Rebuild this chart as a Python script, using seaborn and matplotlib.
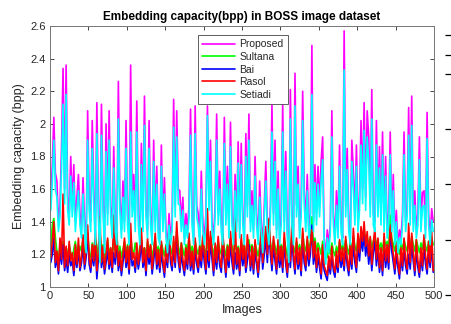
import numpy as np
import pandas as pd
import matplotlib
matplotlib.use("Agg")
import matplotlib.pyplot as plt
import seaborn as sns

images = list(range(1, 501, 2))

proposed = [
 1.55,1.75,2.04,1.70,1.65,1.40,1.50,1.85,2.34,1.60,
 2.36,1.55,1.45,1.80,1.50,1.75,1.40,1.55,1.69,1.45,
 1.35,1.67,1.40,1.25,2.08,1.55,1.40,2.02,1.60,1.30,
 2.13,1.50,1.20,2.12,1.55,1.25,2.00,1.45,2.08,1.50,
 1.35,1.86,1.40,1.30,2.26,1.55,1.35,1.65,1.40,2.02,
 1.45,1.30,2.36,1.50,1.69,1.40,2.14,1.45,1.30,1.88,
 1.40,2.17,1.50,1.35,2.02,1.45,1.30,1.90,1.40,1.74,
 1.35,1.30,1.87,1.40,1.67,1.35,1.25,1.45,1.30,1.40,
 2.15,1.50,2.08,1.60,1.59,1.40,1.55,1.30,1.45,1.35,
 1.50,2.09,1.45,1.30,2.11,1.50,1.45,1.30,1.71,1.40,
 1.30,1.45,2.11,1.55,1.90,1.40,1.30,1.50,2.06,1.45,
 1.71,1.40,1.30,2.04,1.45,1.74,1.35,2.01,1.45,1.30,
 1.69,1.40,1.89,1.35,1.88,1.45,1.30,1.94,1.50,2.06,
 1.40,1.59,1.35,1.80,1.45,1.30,1.65,1.40,1.25,1.50,
 1.77,1.40,1.30,1.50,2.12,1.45,1.90,1.35,1.71,1.30,
 1.45,2.12,1.40,1.83,1.35,1.20,2.21,1.45,1.30,2.31,
 1.50,1.74,1.35,1.50,2.20,1.60,1.40,1.69,1.35,1.45,
 2.48,1.40,1.75,1.45,1.74,1.50,1.77,1.92,1.30,1.18,
 1.35,1.25,1.40,2.08,1.45,1.30,1.59,1.35,1.87,1.40,
 1.30,2.57,1.50,1.85,1.40,1.30,1.90,1.71,1.45,1.87,
 1.40,1.55,2.02,1.60,2.13,1.55,2.08,1.92,1.50,2.21,
 1.45,1.40,2.02,1.50,1.86,1.45,1.95,1.40,1.80,1.35,
 1.45,1.95,1.40,1.69,1.30,1.47,1.25,1.35,1.30,1.45,
 1.95,1.40,1.50,2.10,1.45,2.17,1.40,1.59,1.35,1.45,
 1.92,1.40,1.58,1.59,1.35,2.07,1.45,1.30,1.48,1.40,
]

setiadi = [
 1.47,1.64,1.90,1.60,1.55,1.34,1.43,1.72,2.12,1.51,
 2.18,1.47,1.38,1.68,1.43,1.64,1.34,1.47,1.59,1.38,
 1.30,1.57,1.34,1.21,1.90,1.47,1.34,1.85,1.51,1.26,
 1.94,1.43,1.15,1.93,1.47,1.21,1.83,1.38,1.90,1.43,
 1.30,1.73,1.34,1.26,2.03,1.47,1.30,1.55,1.34,1.85,
 1.38,1.26,1.95,1.43,1.59,1.34,1.95,1.38,1.26,1.75,
 1.34,1.99,1.43,1.30,1.85,1.38,1.26,1.77,1.34,1.63,
 1.30,1.26,1.74,1.34,1.57,1.30,1.21,1.38,1.26,1.34,
 1.98,1.43,1.92,1.51,1.50,1.34,1.47,1.26,1.38,1.30,
 1.43,1.93,1.38,1.26,1.94,1.43,1.38,1.26,1.60,1.34,
 1.26,1.38,2.05,1.47,1.77,1.34,1.26,1.43,1.90,1.38,
 1.60,1.34,1.26,1.88,1.38,1.63,1.30,1.86,1.38,1.26,
 1.59,1.34,1.76,1.30,1.75,1.38,1.26,1.80,1.43,1.90,
 1.34,1.50,1.30,1.68,1.38,1.26,1.55,1.34,1.21,1.43,
 1.65,1.34,1.26,1.43,1.95,1.38,1.77,1.30,1.60,1.26,
 1.38,1.95,1.34,1.71,1.30,1.15,2.03,1.38,1.26,2.11,
 1.43,1.63,1.30,1.43,2.02,1.51,1.34,1.59,1.30,1.38,
 2.18,1.34,1.64,1.38,1.63,1.43,1.65,1.78,1.26,1.14,
 1.30,1.21,1.34,1.92,1.38,1.26,1.50,1.30,1.74,1.34,
 1.26,2.33,1.43,1.72,1.34,1.26,1.77,1.60,1.38,1.74,
 1.34,1.47,1.87,1.51,1.96,1.47,1.92,1.78,1.43,2.03,
 1.38,1.34,1.87,1.43,1.73,1.38,1.81,1.34,1.68,1.30,
 1.38,1.81,1.34,1.59,1.26,1.40,1.21,1.30,1.26,1.38,
 1.81,1.34,1.43,1.93,1.38,1.99,1.34,1.50,1.30,1.38,
 1.78,1.34,1.49,1.50,1.30,1.91,1.38,1.26,1.41,1.34,
]

sultana = [
 1.25,1.38,1.42,1.30,1.22,1.18,1.25,1.20,1.28,1.17,
 1.24,1.19,1.26,1.21,1.17,1.23,1.28,1.20,1.18,1.25,
 1.22,1.30,1.19,1.24,1.33,1.21,1.18,1.27,1.22,1.30,
 1.25,1.19,1.34,1.22,1.26,1.18,1.23,1.29,1.20,1.24,
 1.19,1.27,1.22,1.32,1.20,1.25,1.18,1.23,1.28,1.21,
 1.26,1.19,1.31,1.23,1.20,1.27,1.22,1.18,1.25,1.29,
 1.21,1.24,1.19,1.28,1.22,1.26,1.18,1.24,1.30,1.21,
 1.25,1.20,1.27,1.23,1.19,1.26,1.22,1.33,1.24,1.20,
 1.28,1.22,1.35,1.25,1.20,1.27,1.23,1.19,1.26,1.22,
 1.30,1.21,1.25,1.19,1.28,1.23,1.20,1.26,1.22,1.29,
 1.24,1.20,1.27,1.22,1.31,1.25,1.19,1.26,1.22,1.28,
 1.23,1.20,1.29,1.24,1.19,1.26,1.22,1.30,1.25,1.20,
 1.27,1.22,1.25,1.19,1.28,1.23,1.26,1.20,1.24,1.29,
 1.22,1.26,1.20,1.27,1.23,1.19,1.25,1.30,1.22,1.26,
 1.31,1.24,1.38,1.27,1.22,1.29,1.25,1.20,1.28,1.23,
 1.26,1.21,1.30,1.24,1.19,1.27,1.23,1.32,1.25,1.21,
 1.28,1.23,1.26,1.20,1.33,1.25,1.22,1.29,1.24,1.27,
 1.43,1.26,1.30,1.22,1.27,1.24,1.20,1.28,1.23,1.21,
 1.18,1.24,1.20,1.27,1.22,1.19,1.25,1.21,1.28,1.23,
 1.26,1.22,1.29,1.24,1.20,1.27,1.23,1.31,1.25,1.22,
 1.30,1.26,1.33,1.28,1.35,1.29,1.31,1.26,1.30,1.24,
 1.28,1.32,1.25,1.29,1.23,1.27,1.22,1.30,1.25,1.28,
 1.24,1.44,1.30,1.26,1.22,1.28,1.24,1.20,1.27,1.23,
 1.29,1.25,1.22,1.28,1.24,1.31,1.26,1.22,1.29,1.25,
 1.21,1.27,1.23,1.30,1.25,1.22,1.28,1.24,1.30,1.26,
]

bai = [
 1.15,1.20,1.30,1.12,1.18,1.08,1.22,1.14,1.26,1.10,
 1.17,1.09,1.21,1.13,1.16,1.07,1.19,1.12,1.23,1.10,
 1.15,1.25,1.11,1.18,1.33,1.14,1.09,1.20,1.13,1.26,
 1.05,1.17,1.28,1.12,1.19,1.08,1.15,1.22,1.11,1.18,
 1.09,1.21,1.14,1.27,1.10,1.17,1.07,1.15,1.24,1.12,
 1.19,1.08,1.25,1.13,1.16,1.09,1.20,1.11,1.17,1.28,
 1.12,1.18,1.07,1.23,1.14,1.20,1.08,1.16,1.26,1.11,
 1.18,1.09,1.21,1.13,1.06,1.19,1.12,1.30,1.15,1.10,
 1.24,1.12,1.31,1.16,1.09,1.20,1.13,1.07,1.18,1.11,
 1.26,1.10,1.17,1.08,1.23,1.14,1.09,1.19,1.12,1.25,
 1.15,1.08,1.22,1.12,1.28,1.17,1.07,1.20,1.11,1.24,
 1.13,1.09,1.25,1.16,1.06,1.19,1.12,1.27,1.15,1.08,
 1.21,1.11,1.18,1.07,1.24,1.13,1.20,1.09,1.16,1.26,
 1.10,1.19,1.08,1.22,1.14,1.06,1.17,1.28,1.11,1.20,
 1.30,1.15,1.35,1.20,1.10,1.24,1.16,1.08,1.22,1.12,
 1.19,1.09,1.27,1.14,1.06,1.21,1.12,1.30,1.16,1.08,
 1.23,1.11,1.18,1.07,1.29,1.15,1.10,1.24,1.13,1.20,
 1.38,1.14,1.22,1.09,1.18,1.12,1.05,1.20,1.10,1.07,
 1.04,1.15,1.08,1.19,1.10,1.06,1.16,1.09,1.22,1.12,
 1.18,1.10,1.24,1.13,1.07,1.20,1.11,1.27,1.15,1.09,
 1.26,1.16,1.30,1.22,1.33,1.19,1.27,1.14,1.24,1.10,
 1.21,1.28,1.13,1.23,1.09,1.18,1.07,1.25,1.12,1.20,
 1.11,1.35,1.22,1.15,1.08,1.20,1.12,1.05,1.18,1.10,
 1.23,1.13,1.08,1.20,1.11,1.26,1.16,1.07,1.22,1.12,
 1.06,1.18,1.10,1.24,1.14,1.08,1.21,1.12,1.25,1.09,
]

rasol = [
 1.18,1.28,1.40,1.15,1.22,1.10,1.30,1.17,1.57,1.12,
 1.25,1.13,1.28,1.16,1.21,1.10,1.26,1.14,1.30,1.12,
 1.19,1.32,1.14,1.23,1.38,1.18,1.12,1.26,1.16,1.35,
 1.10,1.22,1.43,1.15,1.25,1.11,1.20,1.30,1.14,1.24,
 1.12,1.44,1.18,1.33,1.13,1.22,1.10,1.20,1.30,1.15,
 1.25,1.11,1.39,1.17,1.21,1.12,1.27,1.14,1.22,1.36,
 1.15,1.24,1.10,1.30,1.18,1.26,1.11,1.21,1.33,1.14,
 1.23,1.12,1.28,1.17,1.09,1.25,1.15,1.38,1.20,1.13,
 1.31,1.15,1.40,1.21,1.12,1.27,1.17,1.10,1.24,1.14,
 1.33,1.13,1.22,1.11,1.30,1.18,1.12,1.25,1.16,1.32,
 1.20,1.11,1.48,1.16,1.34,1.22,1.10,1.27,1.15,1.31,
 1.17,1.12,1.33,1.21,1.09,1.25,1.16,1.34,1.20,1.11,
 1.45,1.14,1.24,1.10,1.32,1.17,1.26,1.12,1.32,1.21,
 1.13,1.25,1.11,1.29,1.18,1.09,1.23,1.36,1.15,1.27,
 1.37,1.20,1.42,1.26,1.14,1.31,1.21,1.11,1.29,1.16,
 1.25,1.12,1.34,1.18,1.09,1.27,1.16,1.40,1.21,1.11,
 1.30,1.14,1.24,1.10,1.36,1.20,1.13,1.31,1.17,1.26,
 1.35,1.18,1.28,1.12,1.24,1.16,1.08,1.26,1.13,1.10,
 1.07,1.19,1.11,1.25,1.13,1.09,1.22,1.12,1.29,1.16,
 1.24,1.13,1.31,1.17,1.10,1.27,1.14,1.36,1.20,1.12,
 1.33,1.21,1.37,1.28,1.40,1.25,1.34,1.19,1.31,1.14,
 1.27,1.36,1.17,1.30,1.12,1.24,1.10,1.33,1.16,1.26,
 1.15,1.38,1.28,1.20,1.11,1.27,1.16,1.08,1.24,1.13,
 1.30,1.17,1.11,1.39,1.15,1.33,1.21,1.10,1.29,1.16,
 1.09,1.24,1.13,1.32,1.19,1.11,1.28,1.15,1.34,1.10,
]

series_names = ["Proposed", "Sultana", "Bai", "Rasol", "Setiadi"]
series_vals = [proposed, sultana, bai, rasol, setiadi]
colors = ["#FF00FF", "#00FF00", "#0000FF", "#FF0000", "#00FFFF"]

x_ticks = list(range(0, 501, 50))
y_ticks = [1, 1.2, 1.4, 1.6, 1.8, 2, 2.2, 2.4, 2.6]
y_tick_labels = ["1", "1.2", "1.4", "1.6", "1.8", "2", "2.2", "2.4", "2.6"]

sns.set_theme(style="white")
plt.rcParams["font.family"] = ["Liberation Sans", "DejaVu Sans"]

fig = plt.figure(figsize=(4.51, 3.24), dpi=100)
W, H = 451, 324
ax = fig.add_axes([50 / W, 1 - 287 / H, (434 - 50) / W, (287 - 26) / H])

for name, vals, col in zip(series_names, series_vals, colors):
    df = pd.DataFrame({"Images": images, "v": vals})
    sns.lineplot(data=df, x="Images", y="v", color=col, linewidth=1.2,
                 label=name, ax=ax)

ax.set_xlim(0, 500)
ax.set_ylim(1, 2.6)
ax.set_xticks(x_ticks)
ax.set_yticks(y_ticks)
ax.set_yticklabels(y_tick_labels)
ax.tick_params(axis="both", direction="in", length=3, width=0.6,
               labelsize=8, colors="#262626", top=True, right=True,
               bottom=True, left=True, pad=3)
for sp in ax.spines.values():
    sp.set_color("#777777")
    sp.set_linewidth(0.7)
ax.set_xlabel("Images", fontsize=9, color="#262626", labelpad=2)
ax.set_ylabel("Embedding capacity (bpp)", fontsize=9, color="#262626", labelpad=4)
ax.set_title("Embedding capacity(bpp) in BOSS image dataset", fontsize=8.5,
             fontweight="bold", color="black", pad=4)

leg = ax.legend(loc="upper left", bbox_to_anchor=(0.385, 0.965), fontsize=7.5,
                frameon=True, fancybox=False, framealpha=1, edgecolor="#444444",
                handlelength=3.2, handletextpad=0.4, borderpad=0.4,
                labelspacing=0.25, borderaxespad=0)
leg.get_frame().set_linewidth(0.6)

# stray tick marks at the right edge of the reference image
ax2 = fig.add_axes([445 / W, 0, 0.02, 1])
ax2.set_ylim(H, 0)
ax2.set_yticks([35, 55, 74, 129, 184, 240, 295])
ax2.set_yticklabels([])
ax2.set_xticks([])
for sp in ax2.spines.values():
    sp.set_visible(False)
ax2.patch.set_alpha(0)
ax2.tick_params(axis="y", direction="in", length=4.5, width=0.9, colors="black",
                left=True, right=False)

fig.savefig("out.png", dpi=100)
